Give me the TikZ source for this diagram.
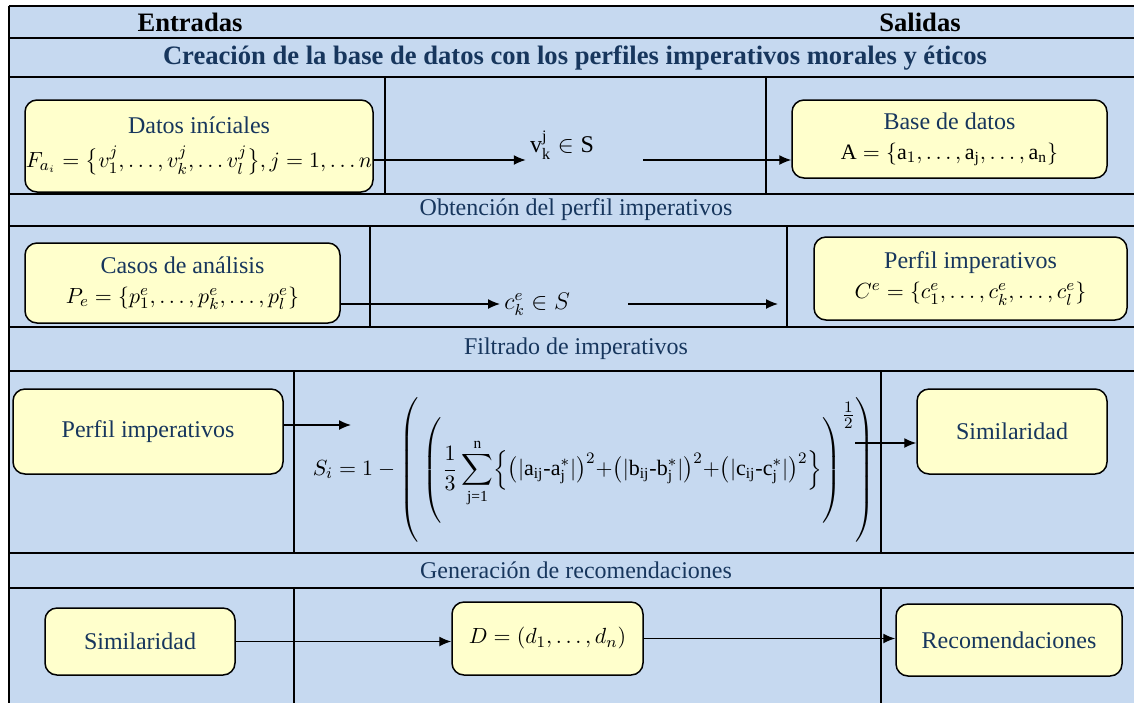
\documentclass[tikz,border=0pt]{standalone}
\usepackage{amsmath,amssymb}
\usepackage{fontspec}
\setmainfont{Liberation Serif}
\usetikzlibrary{arrows.meta, positioning, calc}
\definecolor{TablaAzul}{HTML}{C6D9F0}
\definecolor{CajaAmarilla}{HTML}{FFFFCC}
\definecolor{AzulOscuro}{HTML}{17365D}
\newcommand{\rt}[1]{\text{#1}}
\newcommand{\formula}[1]{{\color{black}\fontsize{11}{13}\selectfont$#1$}}

\tikzset{
  caja/.style={draw=black, line width=0.75pt, fill=CajaAmarilla, rounded corners=6pt,
               align=center, text=AzulOscuro, inner sep=0pt,
               font=\fontsize{12}{15}\selectfont},
  flecha/.style={-{Latex[length=6pt,width=5pt]}, line width=0.7pt},
  linea/.style={line width=0.65pt},
  etapa/.style={text=AzulOscuro, font=\fontsize{12}{14}\selectfont},
  cabecera/.style={font=\fontsize{13.3}{15}\selectfont\bfseries},
}

\begin{document}
\begin{tikzpicture}[x=0.5pt, y=-0.5pt]
    \useasboundingbox (0,0) rectangle (1134,703);

    % Fondo y rejilla de la tabla
    \fill[TablaAzul] (8.5,6) rectangle (1134,703);
    \foreach \y in {6,38,77,194,226,327,371,553,588}
        \draw[linea] (8.5,\y) -- (1134,\y);
    \draw[line width=1pt] (8.5,6) -- (8.5,703);
    \foreach \xa/\ya/\yb in {385/77/194, 766/77/194, 370/226/327, 787/226/327,
                             294/371/553, 881/371/553, 294/588/703, 881/588/703}
        \draw[linea] (\xa,\ya) -- (\xa,\yb);

    % Cabeceras
    \node[cabecera] (entradas) at (190,22) {Entradas};
    \node[cabecera] (salidas) at (920,22) {Salidas};
    \node[cabecera, text=AzulOscuro] (titulo) at (575,58)
        {Creación de la base de datos con los perfiles imperativos morales y éticos};
    \node[etapa] (obtencion) at (576,210) {Obtención del perfil imperativos};
    \node[etapa] (filtrado) at (576,349) {Filtrado de imperativos};
    \node[etapa] (generacion) at (576,570) {Generación de recomendaciones};

    % Fila 1: base de datos
    \node[caja, minimum width=174pt, minimum height=46pt] (datos) at (199,146)
        {Datos iníciales\\[2pt]
         \formula{F_{a_i}=\bigl\{v_1^j,\dots,v_k^j,\dots v_l^j\bigr\},j=1,\dots n}};
    \node[inner sep=2pt, font=\fontsize{12}{14}\selectfont] (vk) at (562,145)
        {$\rt{v}_{\rt{k}}^{\rt{j}}\in\rt{S}$};
    \node[caja, minimum width=157.5pt, minimum height=39pt] (base) at (949.5,139)
        {Base de datos\\
         \formula{\rt{A}=\{\rt{a}_1,\dots,\rt{a}_{\rt{j}},\dots,\rt{a}_{\rt{n}}\}}};
    \coordinate (sal1) at (643,160);
    \draw[flecha] (datos.east |- sal1) -- (vk.west |- sal1);
    \draw[flecha] (sal1) -- (sal1 -| base.west);

    % Fila 2: perfil imperativos
    \node[caja, minimum width=157.5pt, minimum height=40pt] (casos) at (182.5,283)
        {Casos de análisis\\
         \formula{P_e=\{p_1^e,\dots,p_k^e,\dots,p_l^e\}}};
    \node[inner sep=2pt, anchor=west, font=\fontsize{12}{14}\selectfont] (ck) at (500,304)
        {$c_k^e\in S$};
    \node[caja, minimum width=156.5pt, minimum height=41.5pt] (perfilA) at (970.5,278.5)
        {Perfil imperativos\\
         \formula{C^e=\{c_1^e,\dots,c_k^e,\dots,c_l^e\}}};
    \coordinate (sal2) at (628,304);
    \coordinate (fin2) at (778,304);
    \draw[flecha] (casos.east |- sal2) -- (ck.west);
    \draw[flecha] (sal2) -- (fin2);

    % Fila 3: filtrado
    \node[caja, minimum width=135pt, minimum height=42.5pt] (perfilB) at (148,431.5)
        {Perfil imperativos};
    \node[inner sep=0pt, font=\fontsize{11}{13}\selectfont] (similitud) at (594,470)
        {$\displaystyle S_i=1-\left(\rule[-33pt]{0pt}{72pt}\left(\rule[-24.5pt]{0pt}{55pt}
          \frac{1}{3}\sum_{\rt{j=1}}^{\rt{n}}\Bigl\{
          \bigl(|\rt{a}_{\rt{ij}}\text{-}\rt{a}_{\rt{j}}^*|\bigr)^2{+}
          \bigl(|\rt{b}_{\rt{ij}}\text{-}\rt{b}_{\rt{j}}^*|\bigr)^2{+}
          \bigl(|\rt{c}_{\rt{ij}}\text{-}\rt{c}_{\rt{j}}^*|\bigr)^2\Bigr\}
          \right)^{\textstyle\frac{1}{2}}\right)$};
    \node[caja, minimum width=95pt, minimum height=42.5pt] (simA) at (1012,431.5)
        {Similaridad};
    \coordinate (fin3) at (351,425);
    \coordinate (sal3) at (855,443);
    \draw[flecha] (perfilB.east |- fin3) -- (fin3);
    \draw[flecha] (sal3) -- (sal3 -| simA.west);

    % Fila 4: recomendaciones
    \node[caja, minimum width=95pt, minimum height=33.5pt] (simB) at (140,641.5)
        {Similaridad};
    \node[caja, minimum width=95.5pt, minimum height=36.5pt] (dvec) at (547.5,638.5)
        {\formula{D=(d_1,\dots,d_n)}};
    \node[caja, minimum width=113pt, minimum height=36pt] (recom) at (1009,640)
        {Recomendaciones};
    \draw[flecha] (simB.east) -- (simB.east -| dvec.west);
    \draw[flecha] (dvec.east) -- (dvec.east -| recom.west);
\end{tikzpicture}
\end{document}
